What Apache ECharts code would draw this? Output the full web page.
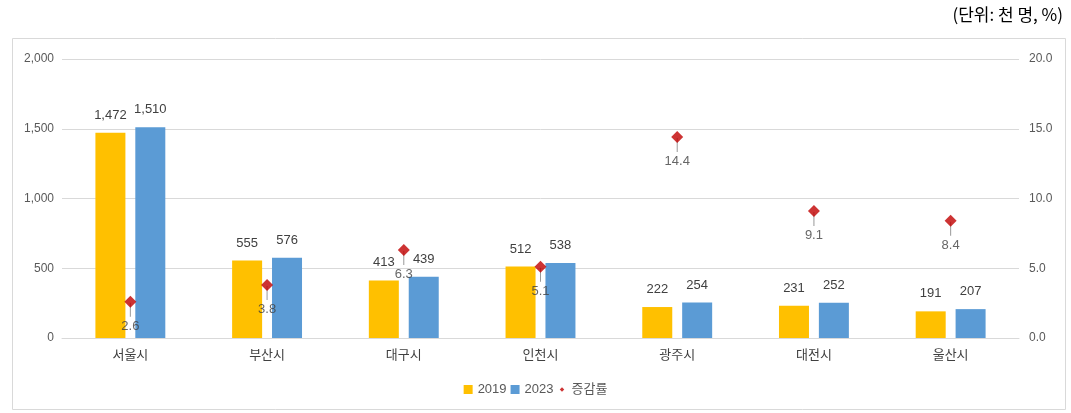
<!DOCTYPE html>
<html><head><meta charset="utf-8">
<script src="https://cdn.jsdelivr.net/npm/echarts@6/dist/echarts.min.js"></script>
<style>html,body{margin:0;padding:0;background:#fff}#c{width:1071px;height:413px}</style>
</head><body><div id="c"></div>
<script>
var categories = ['서울시','부산시','대구시','인천시','광주시','대전시','울산시'];
var v2019 = [1472, 555, 413, 512, 222, 231, 191];
var v2023 = [1510, 576, 439, 538, 254, 252, 207];
var rate = [2.6, 3.8, 6.3, 5.1, 14.4, 9.1, 8.4];
var leftTicks = [0, 500, 1000, 1500, 2000];
var rightTicks = [0, 5, 10, 15, 20];

var font = '"Liberation Sans", "Noto Sans CJK KR", sans-serif';
var kfont = '"Noto Sans CJK KR", sans-serif';
var chart = echarts.init(document.getElementById('c'));
chart.setOption({
  animation: false,
  textStyle: {fontFamily: font},
  graphic: [
    {type:'rect', shape:{x:12.5, y:38.5, width:1053, height:371}, style:{fill:'none', stroke:'#d9d9d9', lineWidth:1}, silent:true},
    {type:'text', right:8, top:6, style:{text:'(단위: 천 명, %)', font:'17px ' + kfont, fill:'#000'}}
  ],
  grid: {left:62, right:52, top:59, bottom:75, containLabel:false},
  legend: {
    bottom:12, left:'center', itemWidth:9, itemHeight:9, itemGap:4,
    textStyle:{fontSize:13, color:'#595959', fontFamily:font},
    data:[{name:'2019', icon:'rect'},{name:'2023', icon:'rect'},
          {name:'증감률', icon:'path://M0,0 M10,10 M5,2.5 L7.5,5 L5,7.5 L2.5,5 Z'}]
  },
  xAxis: {
    type:'category', data:categories,
    axisLine:{lineStyle:{color:'#d9d9d9'}}, axisTick:{show:false},
    axisLabel:{color:'#404040', fontSize:13, margin:10, fontFamily:kfont}
  },
  yAxis: [
    {type:'value', min:leftTicks[0], max:leftTicks[leftTicks.length-1], interval:500,
     axisLine:{show:false}, axisTick:{show:false},
     splitLine:{lineStyle:{color:'#d9d9d9'}},
     axisLabel:{color:'#595959', fontSize:12, margin:8, formatter:function(v){return v.toLocaleString('en-US');}}},
    {type:'value', min:rightTicks[0], max:rightTicks[rightTicks.length-1], interval:5,
     axisLine:{show:false}, axisTick:{show:false}, splitLine:{show:false},
     axisLabel:{color:'#595959', fontSize:12, margin:10, formatter:function(v){return v.toFixed(1);}}}
  ],
  series: [
    {name:'2019', type:'bar', data:v2019, barWidth:30, barGap:'33%', itemStyle:{color:'#FFC000'},
     label:{show:true, position:'top', distance:11, color:'#404040', fontSize:13, formatter:function(p){return p.value.toLocaleString('en-US');}}},
    {name:'2023', type:'bar', data:v2023, barWidth:30, itemStyle:{color:'#5B9BD5'},
     label:{show:true, position:'top', distance:11, color:'#404040', fontSize:13, formatter:function(p){return p.value.toLocaleString('en-US');}}},
    {name:'증감률-leader', type:'scatter', yAxisIndex:1, data:rate, symbol:'rect', symbolSize:[1,14], symbolOffset:[0,8],
     itemStyle:{color:'#808080'}, silent:true, z:3},
    {name:'증감률', type:'scatter', yAxisIndex:1, data:rate, symbol:'diamond', symbolSize:12,
     itemStyle:{color:'#C00000'}, z:4,
     label:{show:true, position:'bottom', distance:12, color:'#404040', fontSize:13, formatter:function(p){return p.value.toFixed(1);}}}
  ]
});
</script></body></html>
